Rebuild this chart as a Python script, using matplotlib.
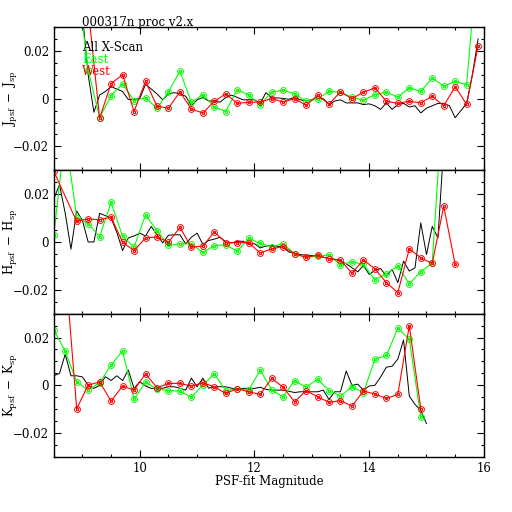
import matplotlib.pyplot as plt
from matplotlib.ticker import MultipleLocator

# bin centres used by the East / West curves (0.2 mag bins)
bins = [8.5, 8.7, 8.9, 9.1, 9.3, 9.5, 9.7, 9.9, 10.1, 10.3, 10.5, 10.7, 10.9,
        11.1, 11.3, 11.5, 11.7, 11.9, 12.1, 12.3, 12.5, 12.7, 12.9, 13.1, 13.3,
        13.5, 13.7, 13.9, 14.1, 14.3, 14.5, 14.7, 14.9, 15.1, 15.3, 15.5, 15.7, 15.9]
# finer bins for the all-scan curve (0.1 mag)
fine = [8.5, 8.6, 8.7, 8.8, 8.9, 9.0, 9.1, 9.2, 9.3, 9.4, 9.5, 9.6, 9.7, 9.8, 9.9,
        10.0, 10.1, 10.2, 10.3, 10.4, 10.5, 10.6, 10.7, 10.8, 10.9,
        11.0, 11.1, 11.2, 11.3, 11.4, 11.5, 11.6, 11.7, 11.8, 11.9,
        12.0, 12.1, 12.2, 12.3, 12.4, 12.5, 12.6, 12.7, 12.8, 12.9,
        13.0, 13.1, 13.2, 13.3, 13.4, 13.5, 13.6, 13.7, 13.8, 13.9,
        14.0, 14.1, 14.2, 14.3, 14.4, 14.5, 14.6, 14.7, 14.8, 14.9,
        15.0, 15.1, 15.2, 15.3, 15.4, 15.5, 15.6, 15.7, 15.8, 15.9, 16.0]

# ---- J
J_all_x = fine[4:75]
J_all = [0.06, 0.035, 0.01, -0.0057, 0.0015, 0.003, 0.005, 0.004, 0.003, -0.0004,
         -0.0003, 0.0, 0.006, 0.004, 0.002, -0.0005, 0.002, 0.0025, 0.002, 0.001,
         -0.003, -0.0005, 0.0005, -0.001, -0.001, -0.0015, 0.0005, 0.0015, 0.0005, -0.0005,
         -0.0005, -0.0005, -0.002, 0.0025, 0.0003, 0.0003, 0.0001, -0.0003, 0.0005, -0.0005,
         -0.001, -0.0005, 0.0, 0.0, -0.0025, -0.001, -0.0005, -0.0018, -0.0018, -0.0018,
         -0.0025, -0.0022, -0.003, -0.0045, -0.0018, -0.0045, -0.0025, -0.002, -0.0035, -0.003,
         -0.006, -0.004, -0.003, -0.002, -0.002, -0.003, -0.008, -0.005, -0.002, 0.01, 0.025]
J_east_x = bins[2:]
J_east = [0.051, 0.012, -0.008, 0.0013, 0.0062, -0.0008, 0.0003, -0.004, 0.0028, 0.0116,
          -0.0016, 0.0017, -0.0035, -0.0054, 0.0038, 0.0014, -0.0025, 0.0027, 0.0035, 0.002,
          -0.0011, -0.0001, 0.003, 0.0027, 0.0006, -0.0007, 0.0017, 0.0027, 0.0006, 0.0045,
          0.003, 0.0087, 0.0052, 0.0072, 0.0058, 0.062]
J_west_x = bins[3:]
J_west = [0.038, -0.0082, 0.0063, 0.010, -0.0054, 0.0073, -0.0032, -0.004, 0.0028, -0.0044,
          -0.006, -0.0011, 0.002, -0.002, -0.0015, -0.0015, 0.0, -0.0014, 0.0, -0.0028,
          0.0014, -0.0023, 0.0028, 0.0, 0.0027, 0.0045, -0.0011, -0.002, -0.0011, -0.0018,
          0.001, -0.003, 0.005, -0.0024, 0.022]

# ---- H
H_all_x = fine[:70]
H_all = [0.018, 0.024, 0.012, -0.003, 0.013, 0.009, 0.0, 0.0, 0.012, 0.011,
         0.01, 0.004, -0.0036, 0.0017, 0.0025, 0.0037, 0.0025, 0.0065, 0.003, -0.0004,
         0.0028, 0.003, 0.003, -0.0008, 0.002, 0.0037, -0.001, 0.0006, 0.0012, 0.002,
         0.0, -0.0004, 0.0003, 0.0003, -0.001, -0.0007, -0.0025, -0.0017, -0.0015, -0.0018,
         -0.0022, -0.0042, -0.0047, -0.0053, -0.0055, -0.0057, -0.0061, -0.0064, -0.0069, -0.0072,
         -0.008, -0.0091, -0.0108, -0.0125, -0.0098, -0.0136, -0.0119, -0.0111, -0.0143, -0.0115,
         -0.017, -0.008, -0.0122, -0.0108, 0.008, -0.0053, 0.0065, 0.0017, 0.04, 0.06]
H_east_x = bins[:35]
H_east = [0.003, 0.045, 0.0102, 0.0077, 0.0022, 0.0166, 0.0024, -0.0022, 0.0113, 0.0048,
          -0.0014, -0.0008, -0.0008, -0.0044, -0.0015, -0.0012, -0.0039, 0.0015, -0.0006, -0.002,
          -0.0007, -0.005, -0.0064, -0.006, -0.0054, -0.0097, -0.0083, -0.0094, -0.0158, -0.0133,
          -0.0101, -0.0175, -0.0125, -0.0087, 0.065]
H_west_x = bins[:1] + bins[2:36]
H_west = [0.0296, 0.0086, 0.0097, 0.0093, 0.0104, -0.0001, -0.0036, 0.0017, 0.0021, -0.0001,
          0.0061, -0.0022, -0.0017, 0.0042, -0.0003, -0.0003, -0.0003, -0.0046, -0.0029, -0.0019,
          -0.005, -0.0064, -0.0055, -0.0071, -0.0076, -0.0131, -0.0075, -0.0112, -0.017, -0.0212,
          -0.0029, -0.0066, -0.009, 0.0149, -0.0094]

# ---- K
K_all_x = fine[:66]
K_all = [0.004, 0.005, 0.013, 0.004, 0.004, 0.0035, 0.0, -0.0013, 0.0, 0.0036,
         0.002, 0.004, 0.002, 0.0064, -0.0013, 0.0015, -0.0003, -0.0013, -0.0012, -0.0012,
         -0.0006, -0.0006, -0.0012, -0.002, 0.003, -0.0006, 0.003, -0.0012, -0.0006, -0.0006,
         -0.0006, -0.0012, -0.0017, -0.0013, -0.0012, -0.0013, -0.0008, -0.0017, -0.002, -0.002,
         -0.002, -0.0025, -0.003, -0.0027, -0.0027, -0.0027, -0.0027, -0.002, -0.0059, -0.0027,
         -0.0027, 0.006, 0.0, 0.0005, -0.002, -0.0003, 0.0, 0.0035, 0.0076, 0.008,
         0.011, 0.019, -0.0045, -0.008, -0.0105, -0.016]
K_east_x = bins[:33]
K_east = [0.0232, 0.0143, 0.0014, -0.002, 0.0011, 0.0085, 0.0144, -0.0057, 0.0013, -0.0015,
          -0.0022, -0.0024, -0.005, 0.0001, 0.0048, -0.0022, -0.0015, -0.002, 0.0064, -0.002,
          -0.0048, 0.002, -0.0008, 0.0025, -0.0022, -0.0045, -0.0006, -0.0031, 0.011, 0.0125,
          0.0239, 0.0194, -0.0132]
K_west_x = bins[1:33]
K_west = [0.05, -0.0098, 0.0001, 0.0014, -0.0066, -0.0003, -0.002, 0.0048, -0.001, 0.0008,
          0.0008, -0.0003, 0.001, -0.0006, -0.0034, -0.0014, -0.0027, -0.0038, 0.0029, -0.0008,
          -0.0069, -0.0022, -0.0048, -0.0071, -0.0064, -0.0087, -0.0024, -0.0036, -0.0055, -0.0038,
          0.0249, -0.0097]

panels = [
    (J_all_x, J_all, J_east_x, J_east, J_west_x, J_west, r'$\mathrm{J_{psf}\ -\ J_{sp}}$'),
    (H_all_x, H_all, H_east_x, H_east, H_west_x, H_west, r'$\mathrm{H_{psf}\ -\ H_{sp}}$'),
    (K_all_x, K_all, K_east_x, K_east, K_west_x, K_west, r'$\mathrm{K_{psf}\ -\ K_{sp}}$'),
]

GREEN = '#00ff00'
RED = '#ff0000'

plt.rcParams['font.family'] = 'DejaVu Serif'
plt.rcParams['mathtext.fontset'] = 'dejavuserif'
plt.rcParams['font.size'] = 8.5

fig = plt.figure(figsize=(5.12, 5.12), dpi=100)
H = 0.28
bottoms = [0.6674, 0.3874, 0.1074]

for i, (ax_x, ax_y, ex, ey, wx, wy, lab) in enumerate(panels):
    ax = fig.add_axes([0.105, bottoms[i], 0.84, H])
    ax.plot(ax_x, ax_y, color='black', lw=0.7)
    for xs, ys, c in [(ex, ey, GREEN), (wx, wy, RED)]:
        ax.plot(xs, ys, color=c, lw=0.8, marker='o', ms=4.2, mfc='none', mec=c, mew=0.7)
        ax.plot(xs, ys, ls='none', color=c, marker='s', ms=1.6, mfc='none', mec=c, mew=0.7)
    ax.set_xlim(8.5, 16)
    ax.set_ylim(-0.03, 0.03)
    ax.xaxis.set_major_locator(MultipleLocator(2))
    ax.xaxis.set_minor_locator(MultipleLocator(0.5))
    ax.set_yticks([-0.02, 0, 0.02])
    ax.set_yticklabels(['\u22120.02', '0', '0.02'])
    ax.yaxis.set_minor_locator(MultipleLocator(0.005))
    ax.tick_params(which='both', direction='in', top=True, right=True, width=0.8)
    ax.tick_params(which='major', length=5, pad=3.5)
    ax.tick_params(which='minor', length=2.5)
    for s in ax.spines.values():
        s.set_linewidth(1.0)
    if i < 2:
        ax.tick_params(labelbottom=False)
    cy = bottoms[i] + H / 2
    fig.text(11 / 512, cy, lab, rotation=90, ha='center', va='center', fontsize=8.5)
    if i == 0:
        ax.text(9.0, 0.0318, '000317n proc v2.x', va='center', ha='left', clip_on=False)
        ax.text(9.0, 0.0213, 'All X-Scan', color='black', va='center')
        ax.text(9.0, 0.0164, 'East', color=GREEN, va='center')
        ax.text(9.0, 0.0115, 'West', color=RED, va='center')

fig.text(269 / 512, 1 - 481 / 512, 'PSF-fit Magnitude', ha='center', va='center')

fig.savefig('out.png', dpi=100)
